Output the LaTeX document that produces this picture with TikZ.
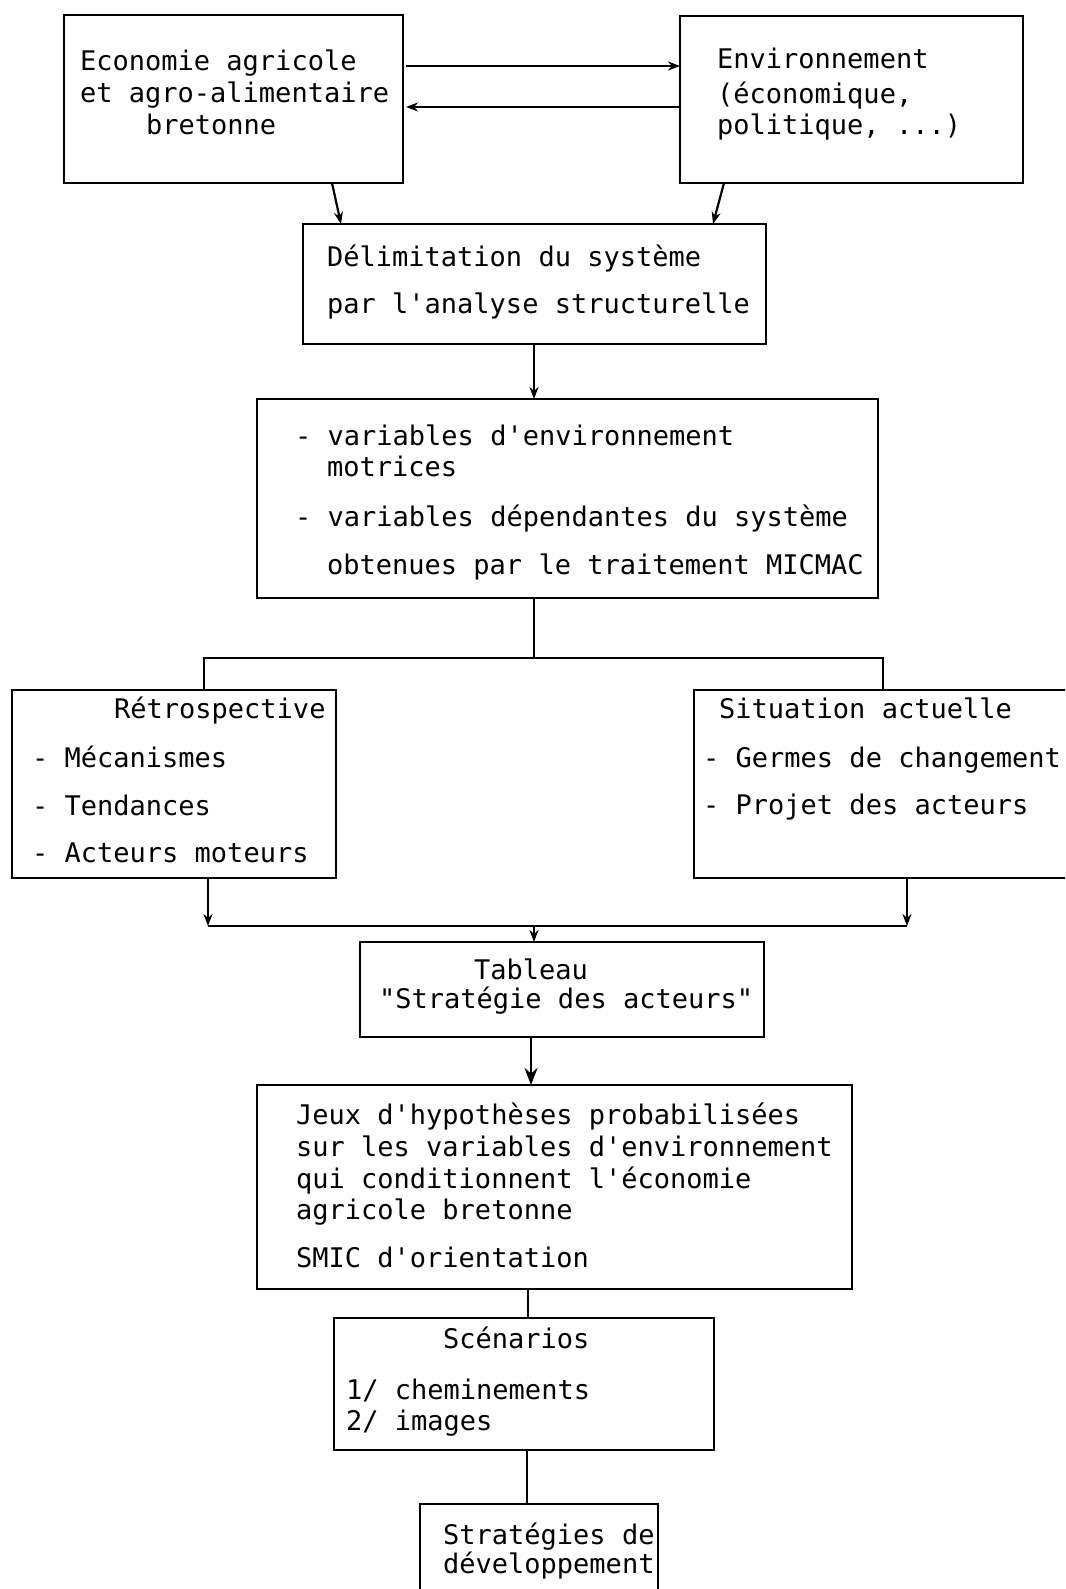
\documentclass[tikz,border=0pt]{standalone}
\usepackage{fontspec}
\setmonofont{DejaVu Sans Mono}
\usetikzlibrary{arrows.meta,calc}
\begin{document}
\begin{tikzpicture}[x=1pt,y=-1pt,
  box/.style={draw, line width=2.6pt, rectangle, inner sep=0pt, outer sep=0pt},
  txt/.style={anchor=base west, inner sep=0pt, font=\ttfamily\fontsize{27}{32}\selectfont},
  link/.style={line width=2.2pt},
  arr/.style={line width=2.2pt, -{Stealth[length=12pt,width=9pt]}},
  bigarr/.style={line width=2.4pt, -{Stealth[length=17pt,width=13pt]}}]
\useasboundingbox (0,0) rectangle (1065,1589);
\clip (0,0) rectangle (1065,1589);
\fill[white] (0,0) rectangle (1065,1589);

% boxes
\node[box, minimum width=339pt, minimum height=168pt] (A) at (233.5,99) {};
\node[box, minimum width=343pt, minimum height=167pt] (B) at (851.5,99.5) {};
\node[box, minimum width=463pt, minimum height=120pt] (C) at (534.5,284) {};
\node[box, minimum width=621pt, minimum height=199pt] (D) at (567.5,498.5) {};
\node[box, minimum width=324pt, minimum height=188pt] (E) at (174,784) {};
\node[box, minimum width=386pt, minimum height=188pt] (F) at (887,784) {};
\node[box, minimum width=404pt, minimum height=95pt] (G) at (562,989.5) {};
\node[box, minimum width=595pt, minimum height=204pt] (H) at (554.5,1187) {};
\node[box, minimum width=380pt, minimum height=132pt] (I) at (524,1384) {};
\node[box, minimum width=238pt, minimum height=106pt] (J) at (539,1557) {};

% texts
\node[txt] (a1) at (80,71) {Economie agricole};
\node[txt] (a2) at (80,103) {et agro-alimentaire};
\node[txt] (a3) at (146,135) {bretonne};

\node[txt] (b1) at (717,69) {Environnement};
\node[txt] (b2) at (717,104) {(économique,};
\node[txt] (b3) at (717,135) {politique, ...)};

\node[txt] (c1) at (327,266) {Délimitation du système};
\node[txt] (c2) at (327,313) {par l'analyse structurelle};

\node[txt] (d1) at (295,445) {- variables d'environnement};
\node[txt] (d2) at (327,476) {motrices};
\node[txt] (d3) at (295,526) {- variables dépendantes du système};
\node[txt] (d4) at (327,574) {obtenues par le traitement MICMAC};

\node[txt] (e1) at (114,718) {Rétrospective};
\node[txt] (e2) at (32,767) {- Mécanismes};
\node[txt] (e3) at (32,815) {- Tendances};
\node[txt] (e4) at (32,862) {- Acteurs moteurs};

\node[txt] (f1) at (719,718) {Situation actuelle};
\node[txt] (f2) at (703,767) {- Germes de changement};
\node[txt] (f3) at (703,814) {- Projet des acteurs};

\node[txt] (g1) at (474,979) {Tableau};
\node[txt] (g2) at (379,1008) {"Stratégie des acteurs"};

\node[txt] (h1) at (296,1124) {Jeux d'hypothèses probabilisées};
\node[txt] (h2) at (296,1156) {sur les variables d'environnement};
\node[txt] (h3) at (296,1188) {qui conditionnent l'économie};
\node[txt] (h4) at (296,1219) {agricole bretonne};
\node[txt] (h5) at (296,1267) {SMIC d'orientation};

\node[txt] (i1) at (443,1348) {Scénarios};
\node[txt] (i2) at (346,1399) {1/ cheminements};
\node[txt] (i3) at (346,1430) {2/ images};

\node[txt] (j1) at (443,1544) {Stratégies de};
\node[txt] (j2) at (443,1573) {développement};

% connectors
\draw[arr] ([xshift=3pt]A.east |- 0,66) -- (B.west |- 0,66);
\draw[arr] (B.west |- 0,107) -- ([xshift=3pt]A.east |- 0,107);
\draw[arr] (A.south -| 332,0) -- (C.north -| 341,0);
\draw[arr] (B.south -| 724,0) -- (C.north -| 713,0);
\draw[arr] (C.south -| 534,0) -- (D.north -| 534,0);

\coordinate (s) at (534,658);
\draw[link] (D.south -| s) -- (s);
\draw[link] (E.north -| 204,0) -- (204,658) -- (883,658) -- (F.north -| 883,0);

\coordinate (jn) at (534,926);
\draw[arr] (E.south -| 208,0) -- (208,926);
\draw[arr] (F.south -| 907,0) -- (907,926);
\draw[link] (208,926) -- (907,926);
\draw[arr] (jn) -- (G.north -| jn);

\draw[bigarr] (G.south -| 531,0) -- (H.north -| 531,0);
\draw[link] (H.south -| 528,0) -- (I.north -| 528,0);
\draw[link] (I.south -| 527,0) -- (J.north -| 527,0);
\end{tikzpicture}
\end{document}
